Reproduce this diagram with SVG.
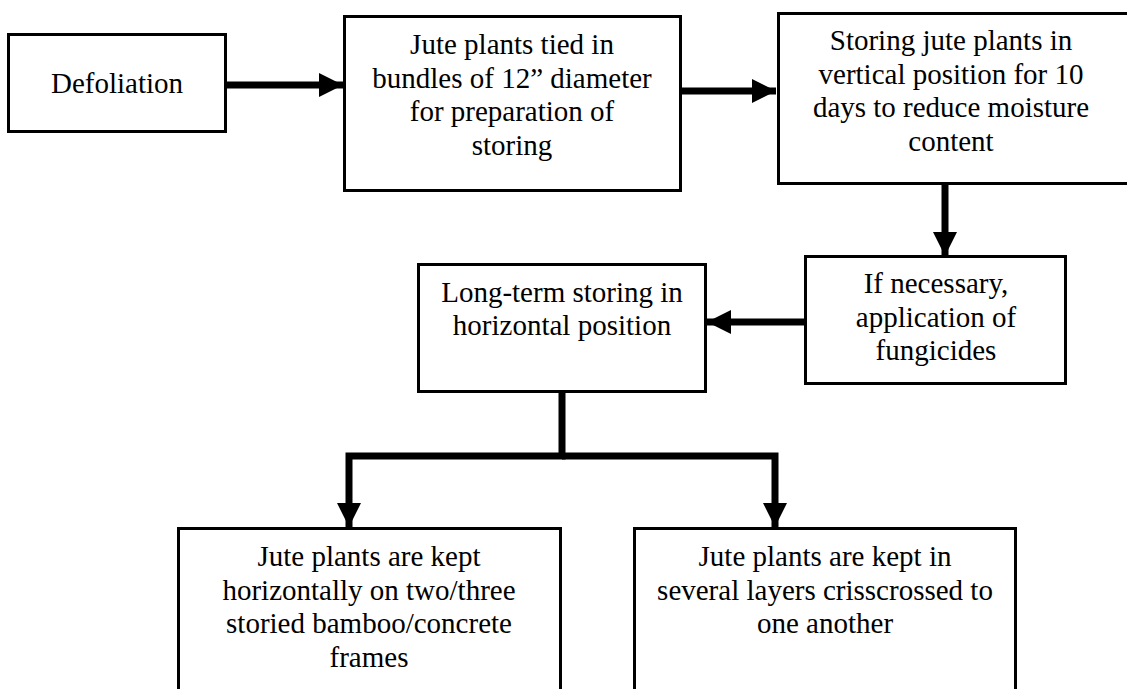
<svg xmlns="http://www.w3.org/2000/svg" width="1127" height="689" viewBox="0 0 1127 689">
<style>
.box{fill:#fff;stroke:#000;stroke-width:3}
.t{font-family:'Liberation Serif','Times New Roman',Times,'DejaVu Serif',serif;font-size:29px;fill:#000;text-anchor:middle}
.c{fill:none;stroke:#000;stroke-width:7;stroke-linejoin:miter}
</style>
<defs>
<marker id="ah" markerUnits="userSpaceOnUse" markerWidth="24" markerHeight="24" viewBox="0 0 24 24" refX="24" refY="12" orient="auto">
<path d="M0,0 L24,12 L0,24 z" fill="#000"/>
</marker>
</defs>
<rect width="1127" height="689" fill="#fff"/>
<g id="connectors">
<path class="c" d="M227,85 H343" marker-end="url(#ah)"/>
<path class="c" d="M682,91 H776" marker-end="url(#ah)"/>
<path class="c" d="M945,185 V256" marker-end="url(#ah)"/>
<path class="c" d="M804,322 H707" marker-end="url(#ah)"/>
<path class="c" d="M562,393 V456 H349 V527" marker-end="url(#ah)"/>
<path class="c" d="M562,456 H775 V527" marker-end="url(#ah)"/>
</g>
<g id="defoliation">
<rect class="box" x="8.5" y="34.5" width="217" height="97"/>
<text class="t" x="117" y="93" font-family="Liberation Serif, serif">Defoliation</text>
</g>
<g id="tied">
<rect class="box" x="344.5" y="16.5" width="336" height="174"/>
<text class="t" x="512" y="54">Jute plants tied in</text>
<text class="t" x="512" y="88">bundles of 12” diameter</text>
<text class="t" x="512" y="121">for preparation of</text>
<text class="t" x="512" y="155">storing</text>
</g>
<g id="vertical">
<rect class="box" x="778.5" y="13.5" width="360" height="170"/>
<text class="t" x="951" y="50">Storing jute plants in</text>
<text class="t" x="951" y="84">vertical position for 10</text>
<text class="t" x="951" y="117">days to reduce moisture</text>
<text class="t" x="951" y="151">content</text>
</g>
<g id="fungicides">
<rect class="box" x="805.5" y="256.5" width="260" height="127"/>
<text class="t" x="936" y="293">If necessary,</text>
<text class="t" x="936" y="327">application of</text>
<text class="t" x="936" y="360">fungicides</text>
</g>
<g id="longterm">
<rect class="box" x="418.5" y="264.5" width="287" height="127"/>
<text class="t" x="562" y="302">Long-term storing in</text>
<text class="t" x="562" y="335">horizontal position</text>
</g>
<g id="frames">
<rect class="box" x="178.5" y="528.5" width="382" height="200"/>
<text class="t" x="369" y="566">Jute plants are kept</text>
<text class="t" x="369" y="600">horizontally on two/three</text>
<text class="t" x="369" y="633">storied bamboo/concrete</text>
<text class="t" x="369" y="667">frames</text>
</g>
<g id="layers">
<rect class="box" x="634.5" y="528.5" width="381" height="200"/>
<text class="t" x="825" y="566">Jute plants are kept in</text>
<text class="t" x="825" y="600">several layers crisscrossed to</text>
<text class="t" x="825" y="633">one another</text>
</g>
</svg>
